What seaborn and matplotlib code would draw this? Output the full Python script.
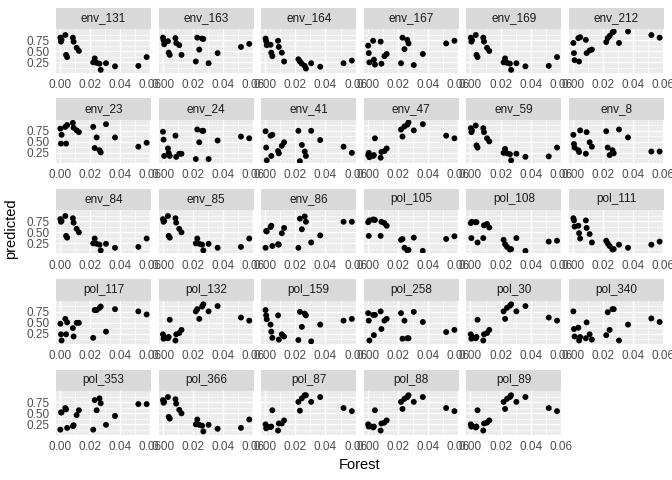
import matplotlib
matplotlib.use("Agg")
import matplotlib.pyplot as plt
import seaborn as sns
import pandas as pd
from matplotlib.ticker import FixedLocator

# ---- data -------------------------------------------------------------
forest = [0.0002, 0.0006, 0.001, 0.0035, 0.004, 0.0047, 0.0085, 0.009, 0.011, 0.0125,
          0.022, 0.023, 0.0243, 0.0262, 0.027, 0.0305, 0.0365, 0.052, 0.0575]

env_131 = [0.81, 0.72, 0.76, 0.87, 0.42, 0.37, 0.81, 0.72, 0.58, 0.51, 0.25, 0.34, 0.24, 0.22, 0.08, 0.23, 0.16, 0.17, 0.37]
env_163 = [0.81, 0.75, 0.66, 0.73, 0.47, 0.42, 0.80, 0.69, 0.64, 0.42, 0.27, 0.81, 0.54, 0.79, 0.78, 0.23, 0.46, 0.60, 0.67]
env_164 = [0.79, 0.73, 0.64, 0.65, 0.47, 0.39, 0.74, 0.60, 0.47, 0.27, 0.32, 0.27, 0.22, 0.17, 0.11, 0.23, 0.15, 0.23, 0.29]
env_167 = [0.63, 0.46, 0.25, 0.74, 0.31, 0.20, 0.72, 0.22, 0.39, 0.44, 0.23, 0.81, 0.55, 0.76, 0.68, 0.19, 0.44, 0.68, 0.74]
env_169 = [0.81, 0.72, 0.76, 0.87, 0.42, 0.37, 0.81, 0.72, 0.58, 0.51, 0.25, 0.34, 0.24, 0.22, 0.08, 0.23, 0.16, 0.17, 0.37]
env_212 = [0.69, 0.46, 0.30, 0.80, 0.27, 0.82, 0.76, 0.46, 0.52, 0.54, 0.71, 0.80, 0.85, 0.93, 0.95, 0.69, 0.95, 0.87, 0.81]
env_23 = [0.80, 0.46, 0.66, 0.84, 0.46, 0.88, 0.93, 0.82, 0.76, 0.72, 0.84, 0.36, 0.60, 0.31, 0.26, 0.90, 0.60, 0.39, 0.48]
env_24 = [0.73, 0.55, 0.18, 0.35, 0.25, 0.18, 0.64, 0.16, 0.23, 0.23, 0.11, 0.78, 0.49, 0.75, 0.75, 0.11, 0.53, 0.62, 0.58]
env_41 = [0.74, 0.37, 0.08, 0.64, 0.18, 0.66, 0.29, 0.24, 0.41, 0.49, 0.75, 0.06, 0.43, 0.28, 0.18, 0.75, 0.54, 0.39, 0.25]
env_47 = [0.20, 0.25, 0.15, 0.18, 0.20, 0.58, 0.14, 0.27, 0.29, 0.35, 0.78, 0.62, 0.85, 0.89, 0.94, 0.76, 0.90, 0.64, 0.58]
env_59 = [0.81, 0.72, 0.76, 0.87, 0.42, 0.37, 0.81, 0.72, 0.58, 0.51, 0.25, 0.34, 0.24, 0.22, 0.08, 0.23, 0.16, 0.17, 0.37]
env_8 = [0.66, 0.45, 0.37, 0.31, 0.27, 0.76, 0.23, 0.72, 0.49, 0.39, 0.74, 0.37, 0.20, 0.31, 0.24, 0.78, 0.60, 0.28, 0.28]
env_84 = [0.80, 0.74, 0.76, 0.87, 0.42, 0.38, 0.82, 0.72, 0.58, 0.50, 0.25, 0.36, 0.24, 0.22, 0.09, 0.24, 0.15, 0.17, 0.36]
env_85 = [0.80, 0.74, 0.76, 0.87, 0.42, 0.38, 0.82, 0.72, 0.58, 0.50, 0.25, 0.36, 0.24, 0.22, 0.09, 0.24, 0.15, 0.17, 0.36]
env_86 = [0.15, 0.53, 0.52, 0.62, 0.65, 0.19, 0.23, 0.22, 0.48, 0.60, 0.15, 0.81, 0.57, 0.86, 0.74, 0.27, 0.43, 0.74, 0.74]
pol_105 = [0.73, 0.42, 0.77, 0.79, 0.79, 0.78, 0.42, 0.74, 0.71, 0.65, 0.33, 0.35, 0.15, 0.09, 0.10, 0.38, 0.08, 0.35, 0.41]
pol_108 = [0.71, 0.37, 0.74, 0.73, 0.73, 0.27, 0.37, 0.66, 0.69, 0.61, 0.33, 0.23, 0.17, 0.11, 0.12, 0.37, 0.08, 0.29, 0.31]
pol_111 = [0.82, 0.77, 0.63, 0.65, 0.48, 0.36, 0.77, 0.60, 0.46, 0.27, 0.31, 0.25, 0.19, 0.11, 0.12, 0.22, 0.15, 0.22, 0.29]
pol_117 = [0.48, 0.24, 0.10, 0.59, 0.24, 0.51, 0.38, 0.19, 0.50, 0.50, 0.16, 0.79, 0.79, 0.84, 0.87, 0.30, 0.81, 0.76, 0.69]
pol_132 = [0.24, 0.14, 0.18, 0.15, 0.18, 0.57, 0.10, 0.24, 0.27, 0.34, 0.76, 0.81, 0.59, 0.87, 0.92, 0.76, 0.88, 0.62, 0.55]
pol_159 = [0.79, 0.67, 0.58, 0.46, 0.30, 0.16, 0.67, 0.12, 0.24, 0.19, 0.11, 0.75, 0.41, 0.71, 0.67, 0.08, 0.46, 0.55, 0.59]
pol_258 = [0.72, 0.55, 0.10, 0.68, 0.22, 0.68, 0.76, 0.36, 0.55, 0.59, 0.72, 0.14, 0.55, 0.15, 0.15, 0.75, 0.52, 0.29, 0.34]
pol_30 = [0.24, 0.14, 0.18, 0.15, 0.18, 0.57, 0.10, 0.24, 0.27, 0.34, 0.76, 0.59, 0.84, 0.89, 0.92, 0.76, 0.88, 0.62, 0.55]
pol_340 = [0.76, 0.36, 0.19, 0.39, 0.10, 0.18, 0.15, 0.51, 0.24, 0.12, 0.22, 0.74, 0.34, 0.81, 0.81, 0.10, 0.46, 0.60, 0.52]
pol_353 = [0.13, 0.52, 0.52, 0.62, 0.59, 0.17, 0.21, 0.23, 0.46, 0.57, 0.13, 0.80, 0.57, 0.84, 0.73, 0.24, 0.44, 0.71, 0.71]
pol_366 = [0.80, 0.74, 0.76, 0.87, 0.42, 0.38, 0.82, 0.72, 0.58, 0.50, 0.25, 0.36, 0.24, 0.22, 0.09, 0.24, 0.15, 0.17, 0.36]
pol_87 = [0.25, 0.16, 0.20, 0.19, 0.20, 0.57, 0.11, 0.27, 0.27, 0.34, 0.76, 0.56, 0.84, 0.91, 0.91, 0.76, 0.87, 0.62, 0.55]
pol_88 = [0.25, 0.20, 0.22, 0.18, 0.20, 0.57, 0.11, 0.27, 0.29, 0.34, 0.76, 0.60, 0.83, 0.87, 0.91, 0.76, 0.87, 0.62, 0.55]
pol_89 = [0.25, 0.20, 0.22, 0.18, 0.20, 0.57, 0.11, 0.27, 0.29, 0.34, 0.76, 0.60, 0.83, 0.87, 0.91, 0.76, 0.87, 0.62, 0.55]

site_names = ["env_131", "env_163", "env_164", "env_167", "env_169", "env_212",
              "env_23", "env_24", "env_41", "env_47", "env_59", "env_8",
              "env_84", "env_85", "env_86", "pol_105", "pol_108", "pol_111",
              "pol_117", "pol_132", "pol_159", "pol_258", "pol_30", "pol_340",
              "pol_353", "pol_366", "pol_87", "pol_88", "pol_89"]
site_values = [env_131, env_163, env_164, env_167, env_169, env_212,
               env_23, env_24, env_41, env_47, env_59, env_8,
               env_84, env_85, env_86, pol_105, pol_108, pol_111,
               pol_117, pol_132, pol_159, pol_258, pol_30, pol_340,
               pol_353, pol_366, pol_87, pol_88, pol_89]

x_ticks = [0.00, 0.02, 0.04, 0.06]
x_tick_labels = ["0.00", "0.02", "0.04", "0.06"]
y_ticks = [0.25, 0.50, 0.75]
y_tick_labels = ["0.25", "0.50", "0.75"]

rows = []
for name, vals in zip(site_names, site_values):
    for xv, yv in zip(forest, vals):
        rows.append({"site": name, "Forest": xv, "predicted": yv})
df = pd.DataFrame(rows)

# ---- styling ----------------------------------------------------------
sns.set_style("white")
plt.rcParams["font.family"] = ["Liberation Sans", "DejaVu Sans"]

W, H = 672, 480
fig = plt.figure(figsize=(W / 100, H / 100), dpi=100)
fig.patch.set_facecolor("white")

ncol = 6
col_left0 = 56.0
col_pitch = 102.6
panel_w = 95.0
row_top0 = 7.5
row_pitch = 90.5
strip_h = 21.8
panel_h = 43.2
tick_fs = 8.45
tick_col = "#4D4D4D"

for i, name in enumerate(site_names):
    r, c = divmod(i, ncol)
    left = col_left0 + col_pitch * c
    s_top = row_top0 + row_pitch * r
    p_top = s_top + strip_h

    ax = fig.add_axes([left / W, 1 - (p_top + panel_h) / H, panel_w / W, panel_h / H])
    ax.set_facecolor("#EBEBEB")
    sub = df[df["site"] == name]
    sns.scatterplot(data=sub, x="Forest", y="predicted", ax=ax, color="black",
                    s=18, edgecolor="none", linewidth=0, legend=False, zorder=3)
    ax.set_xlim(-0.0027, 0.0604)
    ax.set_ylim(0.02, 1.0)
    ax.xaxis.set_major_locator(FixedLocator(x_ticks))
    ax.xaxis.set_minor_locator(FixedLocator([0.01, 0.03, 0.05]))
    ax.yaxis.set_major_locator(FixedLocator(y_ticks))
    ax.yaxis.set_minor_locator(FixedLocator([0.125, 0.375, 0.625, 0.875]))
    ax.grid(which="major", color="white", linewidth=1.0)
    ax.grid(which="minor", color="white", linewidth=0.5)
    ax.set_axisbelow(True)
    for sp in ax.spines.values():
        sp.set_visible(False)
    ax.tick_params(which="major", length=2.64, width=0.75, color="#333333",
                   labelsize=tick_fs, labelcolor=tick_col, pad=1.8)
    ax.tick_params(which="minor", length=0)
    ax.set_xticklabels(x_tick_labels)
    if c == 0:
        ax.set_yticklabels(y_tick_labels)
    else:
        ax.tick_params(axis="y", which="major", left=False, labelleft=False)
    ax.set_xlabel("")
    ax.set_ylabel("")

    sax = fig.add_axes([left / W, 1 - (s_top + strip_h) / H, panel_w / W, strip_h / H])
    sax.set_facecolor("#D9D9D9")
    sax.set_xticks([])
    sax.set_yticks([])
    for sp in sax.spines.values():
        sp.set_visible(False)
    sax.text(0.5, 0.5, name, ha="center", va="center", fontsize=tick_fs,
             color="#1A1A1A", transform=sax.transAxes)

fig.text(360 / W, 1 - 465 / H, "Forest", ha="center", va="center", fontsize=10.56, color="black")
fig.text(11 / W, 1 - 229 / H, "predicted", ha="center", va="center", rotation=90,
         fontsize=10.56, color="black")

fig.savefig("out.png", dpi=100)
